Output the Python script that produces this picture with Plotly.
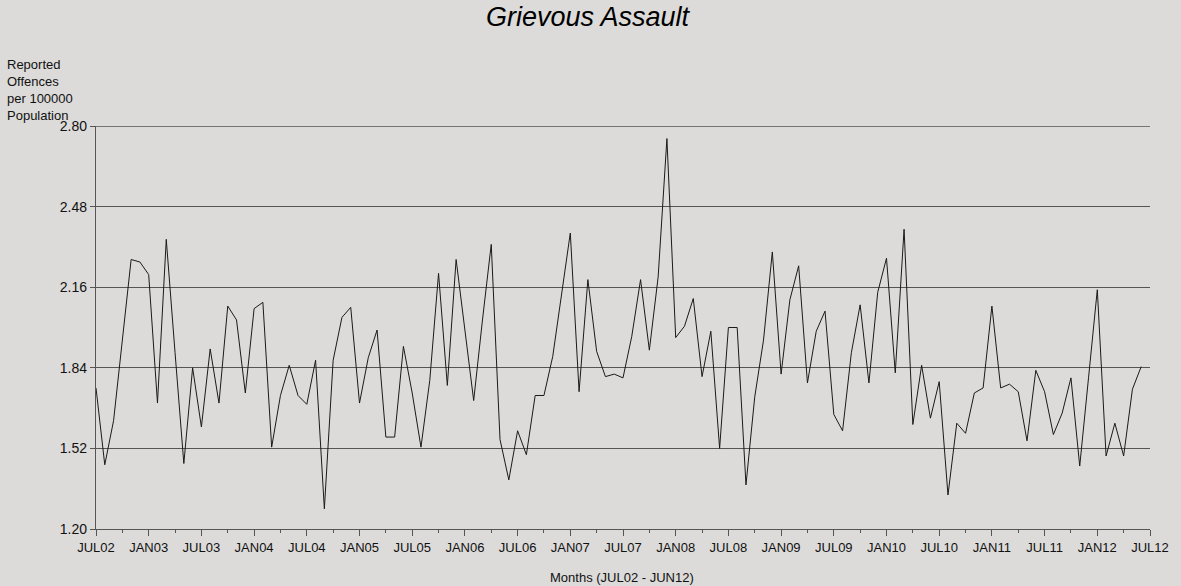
import plotly.graph_objects as go

# Monthly values, JUL02 .. JUN12 (120 months)
values = [
    1.76, 1.455, 1.63, 1.95, 2.27, 2.26, 2.21, 1.70, 2.35, 1.90,
    1.46, 1.84, 1.605, 1.915, 1.70, 2.085, 2.03, 1.74, 2.075, 2.10,
    1.525, 1.73, 1.85, 1.73, 1.695, 1.87, 1.28, 1.87, 2.04, 2.08,
    1.70, 1.88, 1.99, 1.565, 1.565, 1.925, 1.74, 1.525, 1.79, 2.215,
    1.77, 2.27, 1.98, 1.71, 2.03, 2.33, 1.555, 1.395, 1.59, 1.495,
    1.73, 1.73, 1.885, 2.125, 2.375, 1.745, 2.19, 1.905, 1.805, 1.815,
    1.80, 1.965, 2.19, 1.91, 2.20, 2.75, 1.96, 2.005, 2.115, 1.805,
    1.985, 1.52, 2.00, 2.00, 1.375, 1.725, 1.95, 2.30, 1.815, 2.11,
    2.245, 1.78, 1.985, 2.065, 1.655, 1.59, 1.90, 2.09, 1.78, 2.14,
    2.275, 1.82, 2.39, 1.615, 1.85, 1.64, 1.785, 1.335, 1.62, 1.58,
    1.74, 1.76, 2.085, 1.76, 1.775, 1.745, 1.55, 1.83, 1.745, 1.575,
    1.66, 1.80, 1.45, 1.80, 2.15, 1.49, 1.62, 1.49, 1.755, 1.845,
]
month_index = list(range(len(values)))

tick_labels = ["JUL02", "JAN03", "JUL03", "JAN04", "JUL04", "JAN05", "JUL05",
               "JAN06", "JUL06", "JAN07", "JUL07", "JAN08", "JUL08", "JAN09",
               "JUL09", "JAN10", "JUL10", "JAN11", "JUL11", "JAN12", "JUL12"]
tick_positions = [6 * k for k in range(len(tick_labels))]

y_ticks = [1.20, 1.52, 1.84, 2.16, 2.48, 2.80]
y_tick_text = ["1.20", "1.52", "1.84", "2.16", "2.48", "2.80"]

BG = "#dcdbd9"
GRID = "#555555"
FONT = "Liberation Sans, Arial, sans-serif"

fig = go.Figure()
fig.add_trace(go.Scatter(
    x=month_index, y=values, mode="lines",
    line=dict(color="#1a1a1a", width=1),
    hoverinfo="skip", showlegend=False,
))

W, H = 1181, 586
ml, mr, mt, mb = 96, 28, 126, 57

fig.update_layout(
    width=W, height=H,
    paper_bgcolor=BG, plot_bgcolor=BG,
    margin=dict(l=ml, r=mr, t=mt, b=mb, pad=0),
    font=dict(family=FONT, color="#111111", size=13),
    showlegend=False,
)

fig.update_xaxes(
    range=[0, 120],
    tickmode="array", tickvals=tick_positions, ticktext=tick_labels,
    ticks="outside", ticklen=6, tickwidth=1, tickcolor=GRID,
    minor=dict(tick0=0, dtick=3, ticks="outside", ticklen=3, tickcolor=GRID, showgrid=False),
    showgrid=False, zeroline=False,
    showline=True, linecolor=GRID, linewidth=1.3,
    tickfont=dict(size=13, family=FONT, color="#111111"),
    fixedrange=True,
)
fig.update_yaxes(
    range=[1.20, 2.80],
    tickmode="array", tickvals=y_ticks, ticktext=y_tick_text,
    ticks="outside", ticklen=5, tickwidth=1, tickcolor=GRID,
    showgrid=True, gridcolor=GRID, gridwidth=1.3,
    zeroline=False,
    showline=True, linecolor=GRID, linewidth=1.3,
    tickfont=dict(size=14, family=FONT, color="#111111"),
    fixedrange=True,
)

# top gridline at 2.80 (edge gridline is not drawn by plotly)
fig.add_shape(type="line", xref="paper", yref="y", x0=0, x1=1,
              y0=y_ticks[-1], y1=y_ticks[-1], line=dict(color=GRID, width=1.3))

plot_w = W - ml - mr
plot_h = H - mt - mb

fig.add_annotation(
    text="<i>Grievous Assault</i>", xref="paper", yref="paper",
    x=(590 - ml) / plot_w, y=(H - mb - 17) / plot_h,
    xanchor="center", yanchor="middle", showarrow=False,
    font=dict(size=27, family=FONT, color="#000000"),
)
fig.add_annotation(
    text="Reported<br>Offences<br>per 100000<br>Population",
    xref="paper", yref="paper",
    x=(5 - ml) / plot_w, y=(H - mb - 55) / plot_h,
    xanchor="left", yanchor="top", align="left", showarrow=False,
    font=dict(size=13, family=FONT, color="#111111"),
)
fig.add_annotation(
    text="Months (JUL02 - JUN12)", xref="paper", yref="paper",
    x=(623 - ml) / plot_w, y=(H - mb - 577) / plot_h,
    xanchor="center", yanchor="middle", showarrow=False,
    font=dict(size=13, family=FONT, color="#111111"),
)

fig.write_html("out.html", config={"displayModeBar": False},
               post_script="document.body.style.margin='0';document.body.style.background='" + BG + "';")
